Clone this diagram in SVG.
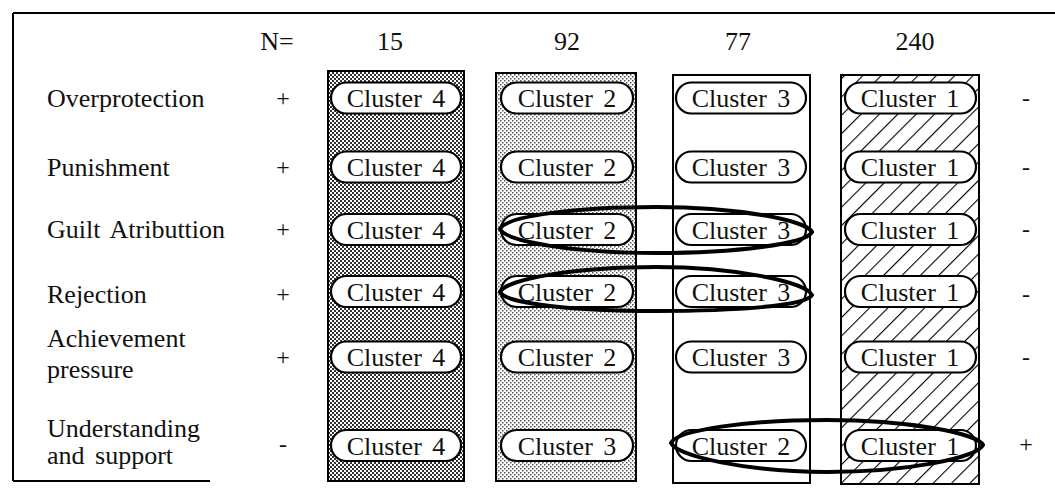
<svg xmlns="http://www.w3.org/2000/svg" width="1055" height="499" viewBox="0 0 1055 499">
<style>
text{font-family:"Liberation Serif","Times New Roman",serif;fill:#111}
.lbl{font-size:26px;word-spacing:4px}
.hdr{font-size:26px;text-anchor:middle}
.sign{font-size:24px;text-anchor:middle}
.pill rect{fill:#fff;stroke:#000;stroke-width:2.2}
.pill text{font-family:"Liberation Serif","Times New Roman",serif;font-size:26px;text-anchor:middle;word-spacing:4px}
.col{stroke:#000;stroke-width:2}
.frame{stroke:#000;stroke-width:2;fill:none}
.hl{fill:none;stroke:#000;stroke-width:4}
</style>
<defs>
<pattern id="dark" width="4" height="4" patternUnits="userSpaceOnUse">
<rect width="4" height="4" fill="#fff"/>
<rect x="0" y="0" width="2" height="2" fill="#333"/>
<rect x="2" y="2" width="2" height="2" fill="#333"/>
</pattern>
<pattern id="light" width="4" height="4" patternUnits="userSpaceOnUse">
<rect width="4" height="4" fill="#fff"/>
<rect x="0" y="0" width="1.5" height="1.5" fill="#555"/>
<rect x="2" y="2" width="1.5" height="1.5" fill="#555"/>
</pattern>
<pattern id="hatch" width="13" height="13" patternUnits="userSpaceOnUse" patternTransform="rotate(45)">
<rect width="13" height="13" fill="#fff"/>
<line x1="0" y1="0" x2="0" y2="13" stroke="#000" stroke-width="2.2"/>
</pattern>
</defs>

<g id="frame">
<line class="frame" x1="13" y1="13" x2="1055" y2="13"/>
<line class="frame" x1="13" y1="13" x2="13" y2="481"/>
<line class="frame" x1="13" y1="481" x2="210" y2="481"/>
</g>

<g id="header">
<text class="hdr" x="277" y="50">N=</text>
<text class="hdr" x="390" y="50">15</text>
<text class="hdr" x="567" y="50">92</text>
<text class="hdr" x="738" y="50">77</text>
<text class="hdr" x="915" y="50">240</text>
</g>

<g id="row-labels">
<text class="lbl" x="47" y="107">Overprotection</text>
<text class="lbl" x="47" y="176">Punishment</text>
<text class="lbl" x="47" y="238">Guilt Atributtion</text>
<text class="lbl" x="47" y="303">Rejection</text>
<text class="lbl" x="47" y="347">Achievement</text>
<text class="lbl" x="47" y="378">pressure</text>
<text class="lbl" x="47" y="437">Understanding</text>
<text class="lbl" x="47" y="464">and support</text>
</g>

<g id="left-signs">
<text class="sign" x="283" y="106">+</text>
<text class="sign" x="283" y="175">+</text>
<text class="sign" x="283" y="237">+</text>
<text class="sign" x="283" y="302">+</text>
<text class="sign" x="283" y="365">+</text>
<text class="sign" x="283" y="452">-</text>
</g>

<g id="right-signs">
<text class="sign" x="1026" y="106">-</text>
<text class="sign" x="1026" y="175">-</text>
<text class="sign" x="1026" y="237">-</text>
<text class="sign" x="1026" y="302">-</text>
<text class="sign" x="1026" y="365">-</text>
<text class="sign" x="1026" y="452">+</text>
</g>

<g id="columns">
<rect id="col-15" class="col" x="328" y="71" width="136" height="410" fill="url(#dark)"/>
<rect id="col-92" class="col" x="496" y="73" width="140" height="408" fill="url(#light)"/>
<rect id="col-77" class="col" x="673" y="75" width="137" height="408" fill="#fff"/>
<rect id="col-240" class="col" x="841" y="75" width="138" height="409" fill="url(#hatch)"/>
</g>

<g id="r1c1" class="pill"><rect x="331" y="82.5" width="130" height="31" rx="15.5"/><text x="396" y="107">Cluster 4</text></g>
<g id="r1c2" class="pill"><rect x="501" y="82.5" width="132" height="31" rx="15.5"/><text x="567" y="107">Cluster 2</text></g>
<g id="r1c3" class="pill"><rect x="676" y="82.5" width="130" height="31" rx="15.5"/><text x="741" y="107">Cluster 3</text></g>
<g id="r1c4" class="pill"><rect x="845" y="82.5" width="131" height="31" rx="15.5"/><text x="910" y="107">Cluster 1</text></g>

<g id="r2c1" class="pill"><rect x="331" y="151.5" width="130" height="31" rx="15.5"/><text x="396" y="176">Cluster 4</text></g>
<g id="r2c2" class="pill"><rect x="501" y="151.5" width="132" height="31" rx="15.5"/><text x="567" y="176">Cluster 2</text></g>
<g id="r2c3" class="pill"><rect x="676" y="151.5" width="130" height="31" rx="15.5"/><text x="741" y="176">Cluster 3</text></g>
<g id="r2c4" class="pill"><rect x="845" y="151.5" width="131" height="31" rx="15.5"/><text x="910" y="176">Cluster 1</text></g>

<g id="r3c1" class="pill"><rect x="331" y="214" width="130" height="31" rx="15.5"/><text x="396" y="238.5">Cluster 4</text></g>
<g id="r3c2" class="pill"><rect x="501" y="214" width="132" height="31" rx="15.5"/><text x="567" y="238.5">Cluster 2</text></g>
<g id="r3c3" class="pill"><rect x="676" y="214" width="130" height="31" rx="15.5"/><text x="741" y="238.5">Cluster 3</text></g>
<g id="r3c4" class="pill"><rect x="845" y="214" width="131" height="31" rx="15.5"/><text x="910" y="238.5">Cluster 1</text></g>

<g id="r4c1" class="pill"><rect x="331" y="276" width="130" height="31" rx="15.5"/><text x="396" y="300.5">Cluster 4</text></g>
<g id="r4c2" class="pill"><rect x="501" y="276" width="132" height="31" rx="15.5"/><text x="567" y="300.5">Cluster 2</text></g>
<g id="r4c3" class="pill"><rect x="676" y="276" width="130" height="31" rx="15.5"/><text x="741" y="300.5">Cluster 3</text></g>
<g id="r4c4" class="pill"><rect x="845" y="276" width="131" height="31" rx="15.5"/><text x="910" y="300.5">Cluster 1</text></g>

<g id="r5c1" class="pill"><rect x="331" y="341.5" width="130" height="31" rx="15.5"/><text x="396" y="366">Cluster 4</text></g>
<g id="r5c2" class="pill"><rect x="501" y="341.5" width="132" height="31" rx="15.5"/><text x="567" y="366">Cluster 2</text></g>
<g id="r5c3" class="pill"><rect x="676" y="341.5" width="130" height="31" rx="15.5"/><text x="741" y="366">Cluster 3</text></g>
<g id="r5c4" class="pill"><rect x="845" y="341.5" width="131" height="31" rx="15.5"/><text x="910" y="366">Cluster 1</text></g>

<g id="r6c1" class="pill"><rect x="331" y="430" width="130" height="31" rx="15.5"/><text x="396" y="454.5">Cluster 4</text></g>
<g id="r6c2" class="pill"><rect x="501" y="430" width="132" height="31" rx="15.5"/><text x="567" y="454.5">Cluster 3</text></g>
<g id="r6c3" class="pill"><rect x="676" y="430" width="130" height="31" rx="15.5"/><text x="741" y="454.5">Cluster 2</text></g>
<g id="r6c4" class="pill"><rect x="845" y="430" width="131" height="31" rx="15.5"/><text x="910" y="454.5">Cluster 1</text></g>

<g id="connectors">
<path class="hl" d="M500,229 C506,216 576,207 656,207 C736,207 806,220 812,232 C806,244 736,253 656,253 C576,253 506,242 500,229 Z"/>
<path class="hl" d="M500,292 C506,279 576,267 656,267 C736,267 806,282 812,295 C806,306 736,311 656,311 C576,311 506,304 500,292 Z"/>
<path class="hl" d="M671,443 C677,430 747,420 827,420 C907,420 977,433 983,445 C977,458 907,472 827,472 C747,472 677,456 671,443 Z"/>
</g>
</svg>
